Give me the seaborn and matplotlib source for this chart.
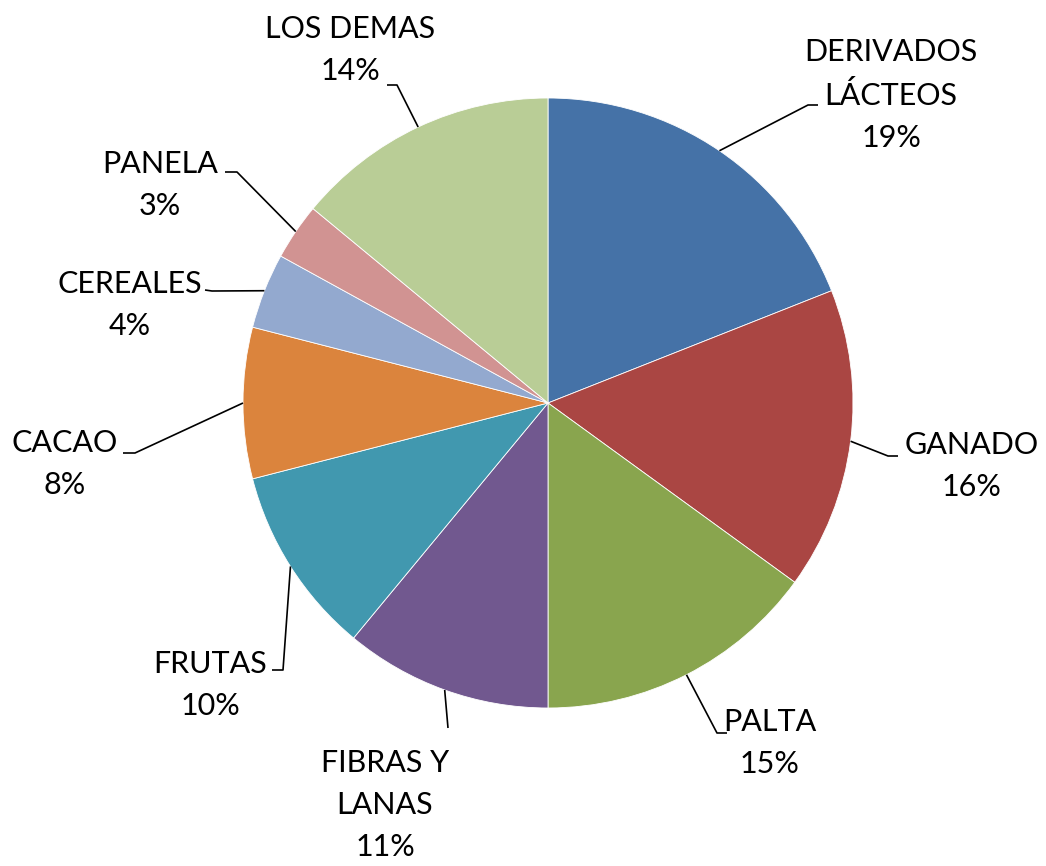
import numpy as np
import matplotlib
matplotlib.use("Agg")
import matplotlib.pyplot as plt
import seaborn as sns

# data
categories = ["DERIVADOS\nLÁCTEOS", "GANADO", "PALTA", "FIBRAS Y\nLANAS", "FRUTAS",
              "CACAO", "CEREALES", "PANELA", "LOS DEMAS"]
shares = [19, 16, 15, 11, 10, 8, 4, 3, 14]
colors = ["#4572A7", "#AA4643", "#89A54E", "#71588F", "#4198AF",
          "#DB843D", "#93A9CF", "#D19392", "#B9CD96"]

# label layout in pixels (y measured from top): text centre, elbow, stub end
label_pos = [(891, 95), (972, 466), (770, 743), (385, 805), (210, 685),
             (65, 464), (130, 305), (160, 185), (350, 50)]
elbows = [(808, 105), (888, 456), (717, 733), (448, 728), (283, 670),
          (135, 453), (212, 291), (237, 172), (397, 85)]
stubs = [(818, 105), (898, 456), (727, 733), None, (272, 670),
         (123, 453), (205, 290), (225, 172), (387, 85)]

sns.set_theme(style="white")
plt.rcParams["font.family"] = ["Lato", "DejaVu Sans"]

W, H = 1046, 866
fig = plt.figure(figsize=(W / 100, H / 100), dpi=100)
ax = fig.add_axes([0, 0, 1, 1])

cx, cy, r = 548, H - 403, 305
wedges, _ = ax.pie(shares, colors=sns.color_palette(colors), startangle=90,
                   counterclock=False, center=(cx, cy), radius=r,
                   wedgeprops=dict(edgecolor="white", linewidth=0.6))
ax.set_xlim(0, W)
ax.set_ylim(0, H)
ax.set_aspect("equal")
ax.axis("off")

for w, lab, val, tp, el, st in zip(wedges, categories, shares, label_pos, elbows, stubs):
    mid = np.deg2rad((w.theta1 + w.theta2) / 2)
    x0, y0 = cx + r * np.cos(mid), cy + r * np.sin(mid)
    xs = [x0, el[0]]
    ys = [y0, H - el[1]]
    if st is not None:
        xs.append(st[0])
        ys.append(H - st[1])
    ax.plot(xs, ys, color="black", lw=1.2, solid_capstyle="butt")
    ax.text(tp[0], H - tp[1], f"{lab}\n{val}%", ha="center", va="center",
            fontsize=22, color="black", linespacing=1.62)

fig.savefig("out.png", dpi=100)
